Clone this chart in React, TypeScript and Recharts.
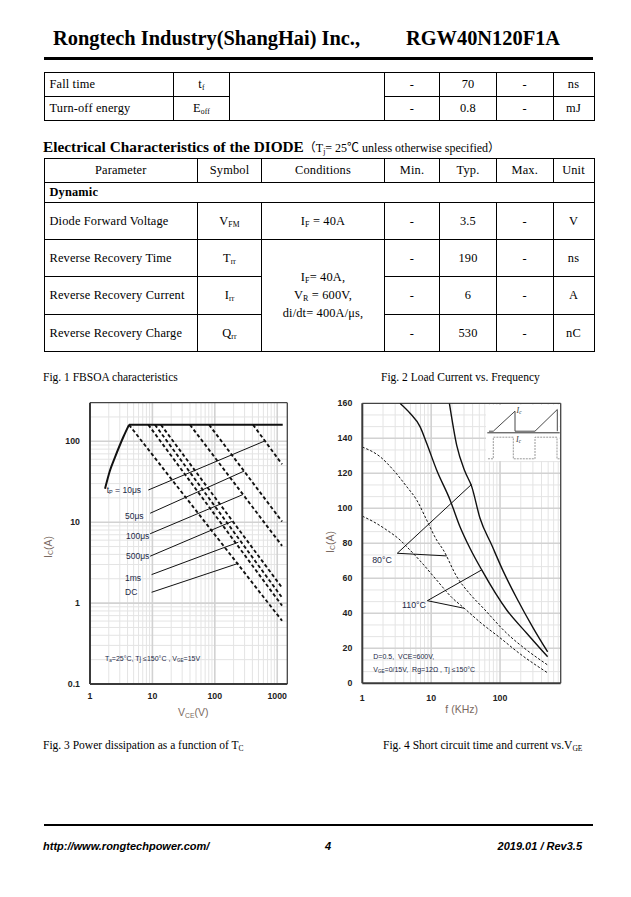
import React from 'react';
import { LineChart, Line, XAxis, YAxis, ReferenceLine } from 'recharts';

// ---- page tables ----
const turnOffParams = ['Fall time', 'Turn-off energy'];
const turnOffSymbols = [['t', 'f'], ['E', 'off']];
const turnOffMin = ['-', '-'];
const turnOffTyp = ['70', '0.8'];
const turnOffMax = ['-', '-'];
const turnOffUnit = ['ns', 'mJ'];

const diodeHeader = ['Parameter', 'Symbol', 'Conditions', 'Min.', 'Typ.', 'Max.', 'Unit'];
const diodeParams = ['Diode Forward Voltage', 'Reverse Recovery Time', 'Reverse Recovery Current', 'Reverse Recovery Charge'];
const diodeSymbols = [['V', 'FM'], ['T', 'rr'], ['I', 'rr'], ['Q', 'rr']];
const diodeMin = ['-', '-', '-', '-'];
const diodeTyp = ['3.5', '190', '6', '530'];
const diodeMax = ['-', '-', '-', '-'];
const diodeUnit = ['V', 'ns', 'A', 'nC'];

// ---- Fig.1 FBSOA ----
const soaTicksV = [1, 10, 100, 1000];
const soaTicksI = [0.1, 1, 10, 100];
const soaMajorV = [10, 100, 1000];
const soaMajorI = [1, 10, 100];
const soaMinorV = [2, 3, 4, 5, 6, 7, 8, 9, 20, 30, 40, 50, 60, 70, 80, 90, 200, 300, 400, 500, 600, 700, 800, 900];
const soaMinorI = [0.2, 0.3, 0.4, 0.5, 0.6, 0.7, 0.8, 0.9, 2, 3, 4, 5, 6, 7, 8, 9, 20, 30, 40, 50, 60, 70, 80, 90, 200];
const soaRiseV = [1.74, 2.09, 2.52, 3.42, 4.22];
const soaRiseI = [25.9, 43.6, 63.8, 113, 160];
const soaLimitV = [4.22, 1225];
const soaLimitI = [160, 160];
const soaPulseStartV = [4.22, 8.6, 11, 13.7, 40, 81, 410];
const soaPulseEndV = 1195;
const soaPulseEndI = [0.605, 0.93, 1.17, 1.55, 5.1, 10.2, 52];
const soaLeaderFromV = [8.6, 9.2, 9.2, 9.2, 9.7, 9.7];
const soaLeaderFromI = [25, 12.9, 7.2, 3.8, 2.25, 1.36];
const soaLeaderToV = [613, 294, 280, 187, 238, 238];
const soaLeaderToI = [100, 42.8, 21.9, 10.2, 5.65, 3.1];

// ---- Fig.2 load current vs frequency ----
const lfTicksF = [1, 10, 100];
const lfTicksI = [0, 20, 40, 60, 80, 100, 120, 140, 160];
const lfMajorF = [10, 100];
const lfMinorF = [2, 3, 4, 5, 6, 7, 8, 9, 20, 30, 40, 50, 60, 70, 80, 90, 200, 300, 400, 500, 600, 700];
const lf80SolidF = [18.4, 23.5, 31, 38.8, 51.2, 75.7, 112, 175, 305, 490];
const lf80SolidI = [160, 136, 121, 112.4, 94.3, 79, 63.8, 48.6, 31.4, 18];
const lf110SolidF = [3.52, 4.93, 6.89, 8.6, 12, 18.8, 26.2, 36.6, 54.2, 125, 244, 490];
const lf110SolidI = [160, 154.3, 146.7, 137.2, 121.9, 104.8, 89.5, 77.2, 64.8, 41.9, 28.6, 15.2];
const lf80DashF = [1, 1.81, 2.82, 4.41, 6.15, 8.6, 12, 15, 23.5, 36.6, 57.3, 125, 244, 490];
const lf80DashI = [135, 129.5, 121.9, 112.4, 104.8, 93.3, 81.9, 76.2, 61, 51, 42.9, 28.6, 19, 10.5];
const lf110DashF = [1, 1.44, 2.26, 3.53, 4.41, 6.9, 12, 20, 30, 51, 100, 200, 490];
const lf110DashI = [95.5, 92.4, 87.6, 81.9, 78.1, 70, 59, 49, 43, 35, 26, 16.5, 6];
const lf80LeaderF = [38.7, 3.22, 16.8];
const lf80LeaderI = [113.7, 74.3, 72.8];
const lf110LeaderF = [54.2, 8.8, 30];
const lf110LeaderI = [64.8, 47.2, 42.9];

const pts = (xs: number[], ys: number[]) => xs.map((x, i) => ({ x, y: ys[i] }));

const SANS = '"Liberation Sans", Arial, sans-serif';
const SERIF = '"Liberation Serif", "Times New Roman", "Noto Sans CJK SC", serif';
const tickStyle = { fontSize: 8.8, fill: '#1e1e1e', fontFamily: SANS, fontWeight: 'bold' as const };
const titleColor = '#7a6a62';
const noteColor = '#1b2846';

function Txt({ x, y, size = 12, align = 'left', children, style }: any) {
  const lh = Math.round(size * 1.3);
  const tx = align === 'center' ? '-50%' : align === 'right' ? '-100%' : '0';
  return (
    <div style={{
      position: 'absolute', left: x, top: y - lh / 2, lineHeight: `${lh}px`, fontSize: size,
      whiteSpace: 'nowrap', transform: `translateX(${tx})`, ...style,
    }}>{children}</div>
  );
}

const Sub = ({ children, size = '0.65em' }: any) => (
  <span style={{ fontSize: size, verticalAlign: '-0.25em' }}>{children}</span>
);

function gridLines(minorX: number[], majorX: number[], minorY: number[], majorY: number[]) {
  return [
    ...minorX.map((v) => <ReferenceLine key={`mx${v}`} x={v} stroke="#e4e4e4" strokeWidth={1} />),
    ...minorY.map((v) => <ReferenceLine key={`my${v}`} y={v} stroke="#e4e4e4" strokeWidth={1} />),
    ...majorX.map((v) => <ReferenceLine key={`Mx${v}`} x={v} stroke="#d2d2d2" strokeWidth={1.6} />),
    ...majorY.map((v) => <ReferenceLine key={`My${v}`} y={v} stroke="#d2d2d2" strokeWidth={1.6} />),
  ];
}

function SoaChart() {
  const pulses = soaPulseStartV.map((v, i) => pts([v, soaPulseEndV], [soaRiseI[soaRiseI.length - 1], soaPulseEndI[i]]));
  const leaders = soaLeaderFromV.map((v, i) => pts([v, soaLeaderToV[i]], [soaLeaderFromI[i], soaLeaderToI[i]]));
  return (
    <LineChart width={260} height={330} margin={{ top: 7.7, right: 12.7, bottom: 21, left: 20 }}>
      <XAxis type="number" dataKey="x" scale="log" domain={[1, 1450]} allowDataOverflow ticks={soaTicksV}
        tick={tickStyle} tickLine={false} tickSize={6} tickMargin={3} height={20}
        axisLine={{ stroke: '#3a3a3a', strokeWidth: 2 }} />
      <YAxis type="number" dataKey="y" scale="log" domain={[0.1, 300]} allowDataOverflow ticks={soaTicksI}
        tick={tickStyle} tickLine={false} tickSize={6} tickMargin={4} width={30}
        axisLine={{ stroke: '#3a3a3a', strokeWidth: 2 }} />
      {gridLines(soaMinorV, soaMajorV, soaMinorI, soaMajorI)}
      <ReferenceLine y={300} stroke="#444" strokeWidth={1.3} />
      <ReferenceLine x={1450} stroke="#444" strokeWidth={1.3} />
      {pulses.map((d, i) => (
        <Line key={`p${i}`} data={d} dataKey="y" type="linear" stroke="#111" strokeWidth={1.9}
          strokeDasharray="3.5 2.5" dot={false} isAnimationActive={false} />
      ))}
      {leaders.map((d, i) => (
        <Line key={`l${i}`} data={d} dataKey="y" type="linear" stroke="#111" strokeWidth={1}
          dot={false} isAnimationActive={false} />
      ))}
      <Line data={pts(soaRiseV, soaRiseI)} dataKey="y" type="monotone" stroke="#111" strokeWidth={2}
        dot={false} isAnimationActive={false} />
      <Line data={pts(soaLimitV, soaLimitI)} dataKey="y" type="linear" stroke="#111" strokeWidth={2}
        dot={false} isAnimationActive={false} />
    </LineChart>
  );
}

function LoadChart() {
  const lfMinorI: number[] = [];
  lfTicksI.slice(0, -1).forEach((t) => lfMinorI.push(t + 20 / 3, t + 40 / 3));
  const curve = (xs: number[], ys: number[], dashed: boolean, k: string) => (
    <Line key={k} data={pts(xs, ys)} dataKey="y" type="monotone" stroke="#111"
      strokeWidth={dashed ? 1 : 1.4} strokeDasharray={dashed ? '2.5 1.8' : undefined}
      dot={false} isAnimationActive={false} />
  );
  const leader = (xs: number[], ys: number[], k: string) => (
    <Line key={k} data={pts(xs, ys)} dataKey="y" type="linear" stroke="#111" strokeWidth={1}
      dot={false} isAnimationActive={false} />
  );
  return (
    <LineChart width={260} height={330} margin={{ top: 8.3, right: 19.3, bottom: 21.7, left: 12.3 }}>
      <XAxis type="number" dataKey="x" scale="log" domain={[1, 760]} allowDataOverflow ticks={lfTicksF}
        tick={tickStyle} tickLine={false} tickSize={6} tickMargin={5} height={20}
        axisLine={{ stroke: '#3a3a3a', strokeWidth: 2 }} />
      <YAxis type="number" dataKey="y" domain={[0, 160]} allowDataOverflow ticks={lfTicksI}
        tick={tickStyle} tickLine={false} tickSize={6} tickMargin={4} width={30}
        axisLine={{ stroke: '#3a3a3a', strokeWidth: 2 }} />
      {gridLines(lfMinorF, lfMajorF, lfMinorI, lfTicksI.slice(1, -1))}
      <ReferenceLine y={160} stroke="#444" strokeWidth={1.3} />
      <ReferenceLine x={760} stroke="#444" strokeWidth={1.3} />
      {curve(lf80DashF, lf80DashI, true, 'd80')}
      {curve(lf110DashF, lf110DashI, true, 'd110')}
      {curve(lf80SolidF, lf80SolidI, false, 's80')}
      {curve(lf110SolidF, lf110SolidI, false, 's110')}
      {leader(lf80LeaderF, lf80LeaderI, 'l80')}
      {leader(lf110LeaderF, lf110LeaderI, 'l110')}
    </LineChart>
  );
}

// small waveform sketch in the corner of Fig.2
function Waveform() {
  return (
    <svg style={{ position: 'absolute', left: 486, top: 404.5, overflow: 'visible' }} width={73.5} height={56}>
      <rect x={0} y={0} width={73.5} height={56} fill="#fff" />
      <g transform="translate(-486,-404.5)" fill="none">
        <path d="M487.3 432.3 H559.7" stroke="#333" strokeWidth={1} />
        <path d="M489 430.7 H493.3 L515 410.7 V430.7 H535 L557.3 409 V430.7" stroke="#333" strokeWidth={0.9} />
        <path d="M488 458.3 H493.3 V436.7 H513.3 V458.3 H535 V436.7 H557 V458.3 H559.5" stroke="#8d8d8d"
          strokeWidth={0.9} strokeDasharray="2 1" />
      </g>
    </svg>
  );
}

function Cell({ children, align = 'center', style, ...rest }: any) {
  return (
    <td {...rest} style={{
      border: '1px solid #000', padding: 0, paddingLeft: align === 'left' ? 5 : 0,
      textAlign: align, verticalAlign: 'middle', ...style,
    }}>{children}</td>
  );
}

const sym = (s: string[]) => <>{s[0]}<Sub size="0.62em">{s[1]}</Sub></>;

export default function App() {
  const tableStyle: React.CSSProperties = {
    position: 'absolute', left: 43.5, borderCollapse: 'collapse', tableLayout: 'fixed',
    width: 550, fontFamily: SERIF, fontSize: 12.4, letterSpacing: 0.15, color: '#000',
  };
  return (
    <div style={{
      position: 'absolute', left: 0, top: 0, width: 631, height: 897, background: '#fff',
      overflow: 'hidden', fontFamily: SERIF, color: '#000',
    }}>
      <Txt x={53} y={38} size={20.4} style={{ fontWeight: 'bold' }}>Rongtech Industry(ShangHai) Inc.,</Txt>
      <Txt x={406} y={38} size={20.4} style={{ fontWeight: 'bold' }}>RGW40N120F1A</Txt>
      <div style={{ position: 'absolute', left: 44, top: 57, width: 549, height: 3, background: '#000' }} />

      <table style={{ ...tableStyle, top: 72 }}>
        <colgroup>
          {[129.5, 56, 155, 55, 57, 56.5, 41].map((w, i) => <col key={i} style={{ width: w }} />)}
        </colgroup>
        <tbody>
          {turnOffParams.map((p, i) => (
            <tr key={p} style={{ height: 24 }}>
              <Cell align="left">{p}</Cell>
              <Cell>{sym(turnOffSymbols[i])}</Cell>
              {i === 0 && <Cell rowSpan={2} />}
              <Cell>{turnOffMin[i]}</Cell>
              <Cell>{turnOffTyp[i]}</Cell>
              <Cell>{turnOffMax[i]}</Cell>
              <Cell>{turnOffUnit[i]}</Cell>
            </tr>
          ))}
        </tbody>
      </table>

      <Txt x={43} y={147} size={15.3} style={{ fontWeight: 'bold' }}>
        Electrical Characteristics of the DIODE
        <span style={{ fontWeight: 'normal', fontSize: 12 }}>（T<Sub>j</Sub>= 25℃ unless otherwise specified）</span>
      </Txt>

      <table style={{ ...tableStyle, top: 158 }}>
        <colgroup>
          {[153.5, 64, 123, 55, 57, 56.5, 41].map((w, i) => <col key={i} style={{ width: w }} />)}
        </colgroup>
        <tbody>
          <tr style={{ height: 24 }}>
            {diodeHeader.map((h) => <Cell key={h}>{h}</Cell>)}
          </tr>
          <tr style={{ height: 20 }}>
            <Cell colSpan={7} align="left" style={{ fontWeight: 'bold' }}>Dynamic</Cell>
          </tr>
          {diodeParams.map((p, i) => (
            <tr key={p} style={{ height: i === 2 ? 38 : 37 }}>
              <Cell align="left">{p}</Cell>
              <Cell>{sym(diodeSymbols[i])}</Cell>
              {i === 0 && <Cell>I<Sub>F</Sub> = 40A</Cell>}
              {i === 1 && (
                <Cell rowSpan={3} style={{ lineHeight: '15px' }}>
                  I<Sub>F</Sub>= 40A,<br />V<Sub>R</Sub> = 600V,<br />di/dt= 400A/μs,
                </Cell>
              )}
              <Cell>{diodeMin[i]}</Cell>
              <Cell>{diodeTyp[i]}</Cell>
              <Cell>{diodeMax[i]}</Cell>
              <Cell>{diodeUnit[i]}</Cell>
            </tr>
          ))}
        </tbody>
      </table>

      <Txt x={43} y={377} size={11.5}>Fig. 1 FBSOA characteristics</Txt>
      <Txt x={381} y={377} size={11.5}>Fig. 2 Load Current vs. Frequency</Txt>

      <div style={{ position: 'absolute', left: 40, top: 395 }}><SoaChart /></div>
      <div style={{ position: 'absolute', left: 320, top: 395 }}><LoadChart /></div>

      {/* Fig.1 / Fig.2 annotations */}
      <div style={{ fontFamily: SANS, color: noteColor }}>
        <Txt x={106.7} y={490} size={8.5}>t<Sub>P</Sub> = 10μs</Txt>
        <Txt x={125} y={516} size={8.5}>50μs</Txt>
        <Txt x={126} y={536.7} size={8.5}>100μs</Txt>
        <Txt x={126} y={556.7} size={8.5}>500μs</Txt>
        <Txt x={125} y={578.3} size={8.5}>1ms</Txt>
        <Txt x={125} y={592.3} size={8.5}>DC</Txt>
        <Txt x={105} y={658.3} size={7}>T<Sub>a</Sub>=25°C, Tj ≤150°C , V<Sub>GE</Sub>=15V</Txt>
        <Txt x={382} y={560} size={8.8} align="center">80°C</Txt>
        <Txt x={414} y={605} size={8.8} align="center">110°C</Txt>
        <Txt x={373.3} y={656.7} size={7}>D=0.5,&nbsp; VCE=600V,</Txt>
        <Txt x={373.3} y={669.3} size={7}>V<Sub>GE</Sub>=0/15V,&nbsp; Rg=12Ω , Tj ≤150°C</Txt>
      </div>
      <div style={{ fontFamily: SANS, color: titleColor }}>
        <Txt x={193.3} y={711.7} size={10.5} align="center">V<Sub>CE</Sub>(V)</Txt>
        <Txt x={461.7} y={709.3} size={10.5} align="center">f (KHz)</Txt>
        <div style={{ position: 'absolute', left: 48.3, top: 546.7, transform: 'translate(-50%,-50%) rotate(-90deg)', fontSize: 10.5, whiteSpace: 'nowrap' }}>
          I<Sub>C</Sub>(A)
        </div>
        <div style={{ position: 'absolute', left: 330, top: 541.7, transform: 'translate(-50%,-50%) rotate(-90deg)', fontSize: 10.5, whiteSpace: 'nowrap' }}>
          I<Sub>C</Sub>(A)
        </div>
      </div>
      <Waveform />
      <div style={{ fontFamily: SERIF, fontStyle: 'italic', color: '#333' }}>
        <Txt x={516.5} y={411} size={8}>I<Sub>c</Sub></Txt>
        <Txt x={516} y={440} size={8}>I<Sub>c</Sub></Txt>
      </div>

      <Txt x={43} y={745} size={11.5}>Fig. 3 Power dissipation as a function of T<Sub>C</Sub></Txt>
      <Txt x={383} y={745} size={11.5}>Fig. 4 Short circuit time and current vs.V<Sub>GE</Sub></Txt>

      <div style={{ position: 'absolute', left: 44, top: 824, width: 549, height: 2, background: '#000' }} />
      <div style={{ fontFamily: SANS, fontWeight: 'bold', fontStyle: 'italic' }}>
        <Txt x={43} y={846} size={11}>http://www.rongtechpower.com/</Txt>
        <Txt x={325} y={846} size={11}>4</Txt>
        <Txt x={582} y={846} size={11} align="right">2019.01 / Rev3.5</Txt>
      </div>
    </div>
  );
}
